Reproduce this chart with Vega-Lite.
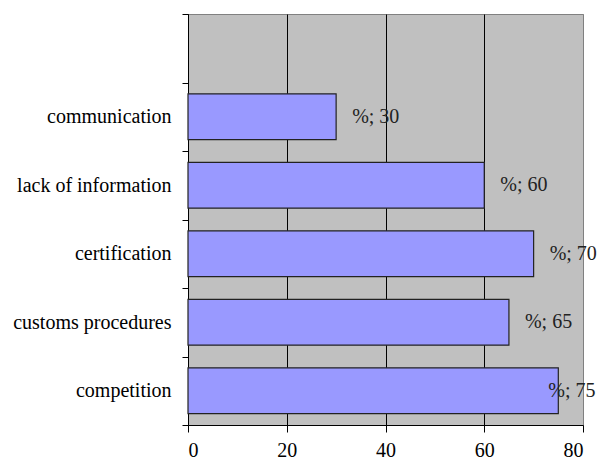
{
  "$schema": "https://vega.github.io/schema/vega-lite/v6.json",
  "autosize": {"type": "none"},
  "padding": {"left": 188, "top": 14, "right": 29, "bottom": 34},
  "width": 395,
  "height": 411,
  "background": "white",
  "config": {
    "view": {"fill": "#c0c0c0", "stroke": "#808080", "strokeWidth": 1},
    "font": "Liberation Serif"
  },
  "data": {
    "values": [
      {"category": "communication", "value": 30, "label": "%; 30"},
      {"category": "lack of information", "value": 60, "label": "%; 60"},
      {"category": "certification", "value": 70, "label": "%; 70"},
      {"category": "customs procedures", "value": 65, "label": "%; 65"},
      {"category": "competition", "value": 75, "label": "%; 75"}
    ]
  },
  "encoding": {
    "y": {
      "field": "category",
      "type": "nominal",
      "scale": {
        "domain": ["blank", "communication", "lack of information", "certification", "customs procedures", "competition"],
        "paddingInner": 0,
        "paddingOuter": 0
      },
      "axis": {
        "title": null,
        "labelExpr": "datum.value == 'blank' ? '' : datum.value",
        "tickBand": "extent",
        "domainColor": "black",
        "tickColor": "black",
        "tickSize": 6,
        "labelPadding": 11,
        "labelFont": "Liberation Serif",
        "labelFontSize": 20,
        "labelColor": "black",
        "labelLimit": 200,
        "grid": false
      }
    },
    "x": {
      "field": "value",
      "type": "quantitative",
      "scale": {"domain": [0, 80], "nice": false},
      "axis": {
        "title": null,
        "values": [0, 20, 40, 60, 80],
        "grid": true,
        "gridColor": {"condition": {"test": "datum.value == 80", "value": "#808080"}, "value": "black"},
        "gridOpacity": 1,
        "domainColor": "black",
        "tickColor": "black",
        "tickSize": 7,
        "labelPadding": 8,
        "labelFont": "Liberation Serif",
        "labelFontSize": 20,
        "labelColor": "black"
      }
    }
  },
  "layer": [
    {
      "mark": {"type": "bar", "height": {"band": 0.67}, "fill": "#9999ff", "stroke": "#222222", "strokeWidth": 1.2}
    },
    {
      "transform": [{"filter": "datum.value < 75"}],
      "mark": {"type": "text", "align": "left", "baseline": "middle", "dx": 16, "font": "Liberation Serif", "fontSize": 20, "fill": "#222222"},
      "encoding": {"text": {"field": "label"}}
    },
    {
      "transform": [{"filter": "datum.value >= 75"}],
      "mark": {"type": "text", "align": "left", "baseline": "middle", "dx": -10, "font": "Liberation Serif", "fontSize": 20, "fill": "#222222"},
      "encoding": {"text": {"field": "label"}}
    }
  ]
}
